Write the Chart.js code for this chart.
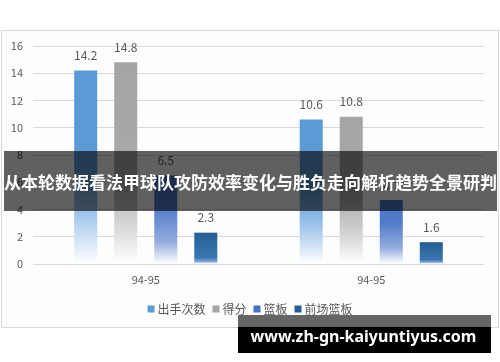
<!DOCTYPE html>
<html>
<head>
<meta charset="utf-8">
<script src="https://cdn.jsdelivr.net/npm/chart.js@4"></script>
<style>
html,body{margin:0;padding:0;background:#fff;}
canvas{display:block;}
</style>
</head>
<body>
<canvas id="c" width="500" height="362"></canvas>
<script>
const categories = ['94-95', '94-95'];
const seriesNames = ['出手次数', '得分', '篮板', '前场篮板'];
const shotsValues = [14.2, 10.6];
const pointsValues = [14.8, 10.8];
const reboundsValues = [6.5, 4.7];
const offRebValues = [2.3, 1.6];
const yMin = 0, yMax = 16, yStep = 2;
const bannerText = '从本轮数据看法甲球队攻防效率变化与胜负走向解析趋势全景研判';
const watermarkText = 'www.zh-gn-kaiyuntiyus.com';

const FONT = '"Noto Sans CJK SC", "Noto Sans", sans-serif';
const TXT = '#595959';
const solidColors = ['#5b9bd5', '#a5a5a5', '#4472c4', '#255e91'];
const gradStops = [
  [[0, '#5b9bd5'], [0.5, '#5b9bd5'], [0.75, '#a3c7ec'], [1, '#ffffff']],
  [[0, '#a5a5a5'], [0.5, '#a8a8a8'], [0.75, '#cbcbcb'], [1, '#ffffff']],
  [[0, '#4a76c8'], [0.35, '#4f7bc9'], [0.75, '#95acdf'], [1, '#ffffff']],
  [[0, '#255e91'], [0.8, '#3a76b3'], [0.92, '#7ea8d6'], [1, '#ffffff']]
];

function makeGrad(stops) {
  return (ctx) => {
    const chart = ctx.chart;
    const ys = chart.scales && chart.scales.y;
    if (!ys || ctx.type !== 'data' || !chart.chartArea) return stops[0][1];
    const top = ys.getPixelForValue(ctx.raw);
    const base = ys.getPixelForValue(0);
    if (!isFinite(top) || !isFinite(base) || top === base) return stops[0][1];
    const g = chart.ctx.createLinearGradient(0, top, 0, base);
    stops.forEach(([o, c]) => g.addColorStop(o, c));
    return g;
  };
}

const seriesValues = [shotsValues, pointsValues, reboundsValues, offRebValues];

const framePlugin = {
  id: 'frame',
  beforeDraw(chart) {
    const c = chart.ctx;
    c.save();
    c.fillStyle = '#ffffff';
    c.fillRect(0, 0, chart.width, chart.height);
    c.fillStyle = '#fefdfe';
    c.fillRect(1.5, 30.5, 497, 297);
    c.strokeStyle = '#d9d9d9';
    c.lineWidth = 1;
    c.strokeRect(1.5, 30.5, 497, 297);
    c.restore();
  },
  afterDatasetsDraw(chart) {
    const c = chart.ctx;
    c.save();
    c.font = '12px ' + FONT;
    c.fillStyle = TXT;
    c.textAlign = 'center';
    c.textBaseline = 'middle';
    chart.data.datasets.forEach((ds, di) => {
      const meta = chart.getDatasetMeta(di);
      meta.data.forEach((el, i) => {
        c.fillText(String(ds.data[i]), el.x, el.y - 15);
      });
    });
    c.restore();
  },
  afterDraw(chart) {
    const c = chart.ctx;
    c.save();
    // legend
    c.font = '12px ' + FONT;
    c.textBaseline = 'middle';
    const box = 7, gapIn = 3, gapOut = 7;
    let total = 0;
    const widths = chart.data.datasets.map(ds => c.measureText(ds.label).width);
    widths.forEach((w, i) => { total += box + gapIn + w + (i < widths.length - 1 ? gapOut : 0); });
    let x = 250 - total / 2;
    const ly = 309;
    chart.data.datasets.forEach((ds, i) => {
      c.fillStyle = solidColors[i];
      c.fillRect(x, ly - box / 2, box, box);
      x += box + gapIn;
      c.fillStyle = TXT;
      c.textAlign = 'left';
      c.fillText(ds.label, x, ly);
      x += widths[i] + gapOut;
    });
    // banner
    c.fillStyle = 'rgba(0,0,0,0.62)';
    c.fillRect(4, 151, 493, 60);
    c.font = 'bold 17px ' + FONT;
    c.fillStyle = '#ffffff';
    c.textAlign = 'center';
    c.textBaseline = 'middle';
    c.fillText(bannerText, 250.5, 183);
    // watermark
    c.fillStyle = 'rgba(0,0,0,0.6)';
    c.fillRect(238, 315, 253, 12);
    c.fillStyle = '#000000';
    c.fillRect(238, 327, 253, 26);
    c.font = 'bold 16px "Noto Sans", "DejaVu Sans", sans-serif';
    c.fillStyle = '#ffffff';
    c.fillText(watermarkText, 363.5, 337);
    c.restore();
  }
};

new Chart(document.getElementById('c'), {
  type: 'bar',
  data: {
    labels: categories,
    datasets: seriesNames.map((name, i) => ({
      label: name,
      data: seriesValues[i],
      backgroundColor: makeGrad(gradStops[i]),
      borderWidth: 0,
      categoryPercentage: 0.71,
      barPercentage: 0.575
    }))
  },
  options: {
    responsive: false,
    animation: false,
    devicePixelRatio: 1,
    layout: { padding: { left: 0, top: 46, right: 16, bottom: 68 } },
    plugins: { legend: { display: false }, tooltip: { enabled: false } },
    scales: {
      x: {
        grid: { display: false, drawTicks: false },
        border: { display: false },
        ticks: { color: TXT, font: { family: FONT, size: 11 }, padding: 9 },
        afterFit(s) { s.height = 30; }
      },
      y: {
        min: yMin, max: yMax,
        ticks: { stepSize: yStep, color: TXT, font: { family: FONT, size: 11 }, padding: 10 },
        grid: { color: '#d9d9d9', drawTicks: false },
        border: { display: false },
        afterFit(s) { s.width = 33; }
      }
    }
  },
  plugins: [framePlugin]
});
</script>
</body>
</html>
